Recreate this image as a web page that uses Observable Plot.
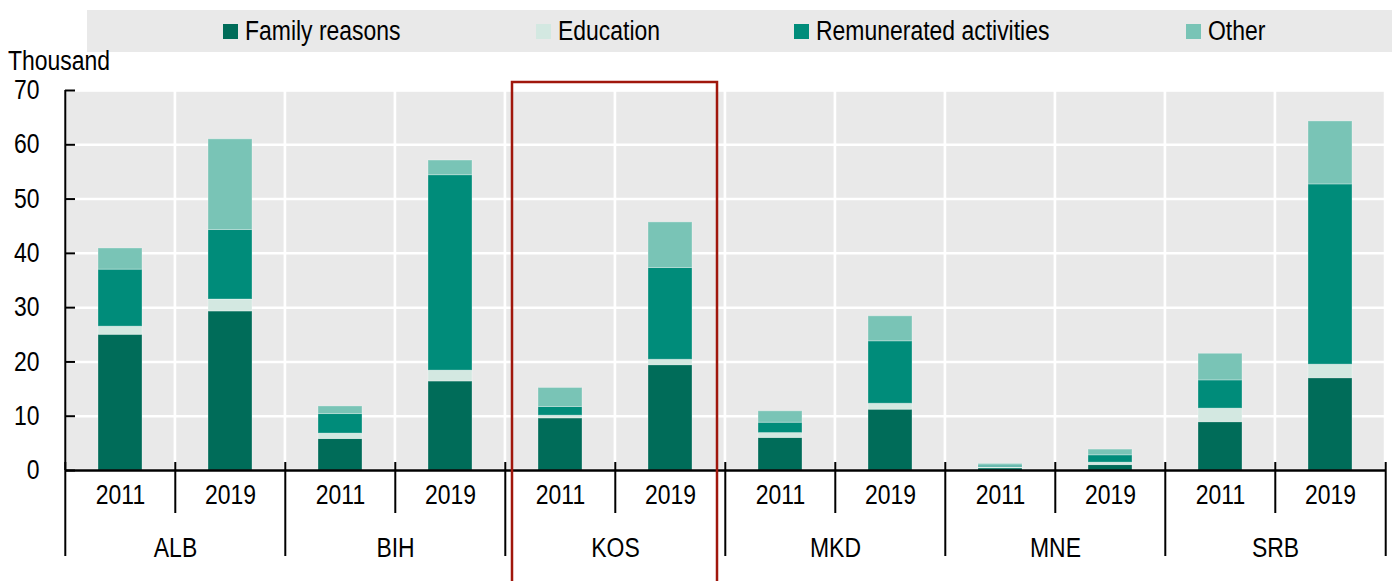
<!DOCTYPE html>
<html>
<head>
<meta charset="utf-8">
<script src="https://cdn.jsdelivr.net/npm/d3@7"></script>
<script src="https://cdn.jsdelivr.net/npm/@observablehq/plot@0.6"></script>
<style>
  html, body { margin: 0; padding: 0; background: #ffffff; }
  body { width: 1392px; height: 581px; position: relative; overflow: hidden;
         font-family: "Liberation Sans Narrow", "Arial Narrow", "Liberation Sans", sans-serif; color: #000; }
  #legend { position: absolute; left: 87px; top: 10px; width: 1305px; height: 42px; background: #e9e9e9; }
  .item { position: absolute; top: 0; height: 42px; display: flex; align-items: center; font-size: 27px; white-space: nowrap; }
  .sw { width: 15px; height: 15px; margin-right: 7px; flex: none; }
  .narrow { display: inline-block; transform: scaleX(0.85); transform-origin: left center; }
  #unit { position: absolute; left: 8px; top: 46px; font-size: 27px; }
  #chart { position: absolute; left: 0; top: 0; }
</style>
</head>
<body>
<div id="legend"></div>
<div id="unit"><span class="narrow">Thousand</span></div>
<div id="chart"></div>
<script>
// ---- data ----
const countries = ["ALB", "BIH", "KOS", "MKD", "MNE", "SRB"];
const years = ["2011", "2019"];
const reasons = ["Family reasons", "Education", "Remunerated activities", "Other"];
const colors = ["#006c59", "#d3e8e1", "#008c7a", "#79c4b6"];
// values in thousand, order: ALB 2011, ALB 2019, BIH 2011, BIH 2019, ...
const family      = [25.0, 29.3, 5.8, 16.4, 9.6, 19.4, 6.0, 11.2, 0.4, 1.0, 8.9, 17.0];
const education   = [1.5, 2.2, 1.0, 2.0, 0.5, 1.0, 0.9, 1.1, 0.2, 0.45, 2.5, 2.5];
const remunerated = [10.5, 12.8, 3.6, 36.0, 1.6, 16.9, 1.9, 11.5, 0.3, 1.35, 5.2, 33.2];
const other       = [3.9, 16.7, 1.4, 2.7, 3.5, 8.4, 2.1, 4.6, 0.3, 1.05, 4.9, 11.6];
const yTicks = [0, 10, 20, 30, 40, 50, 60, 70];
const highlighted = ["KOS"];

// ---- build tables ----
const series = [family, education, remunerated, other];
const rows = [];
const bands = [];
countries.forEach((c, i) => years.forEach((y, j) => {
  const k = i * years.length + j;
  bands.push({country: c, year: y});
  series.forEach((arr, r) => rows.push({country: c, year: y, reason: reasons[r], value: arr[k]}));
}));
const groupStarts = bands.filter(d => d.year === years[0]);
const innerBounds = bands.filter(d => d.year !== years[0]);
const lastBand = [bands[bands.length - 1]];
const firstBand = [bands[0]];
const yMin = yTicks[0], yMax = yTicks[yTicks.length - 1];

// ---- layout ----
const W = 1392, H = 581;
const mL = 62, mR = 5, mT = 90, mB = 111;
const step = (W - mL - mR) / bands.length;
const font = '"Liberation Sans Narrow", "Arial Narrow", "Liberation Sans", sans-serif';
const narrow = 0.85;

// ---- legend ----
const legendX = [223, 536, 794, 1186];
const legend = document.getElementById("legend");
reasons.forEach((r, i) => {
  const it = document.createElement("div");
  it.className = "item";
  it.style.left = (legendX[i] - 87) + "px";
  it.innerHTML = `<span class="sw" style="background:${colors[i]}"></span><span class="narrow">${r}</span>`;
  legend.appendChild(it);
});

const tickStyle = {stroke: "black", strokeWidth: 2};
const chart = Plot.plot({
  width: W, height: H,
  marginLeft: mL, marginRight: mR, marginTop: mT, marginBottom: mB,
  style: {fontFamily: font, fontSize: "27px", color: "black", background: "transparent", overflow: "visible"},
  fx: {domain: countries, padding: 0, label: null},
  x: {domain: years, padding: 0, label: null},
  y: {type: "linear", domain: [yMin, yMax], label: null},
  color: {domain: reasons, range: colors},
  marks: [
    Plot.cell(bands, {fx: "country", x: "year", fill: "#e9e9e9", stroke: "white", strokeWidth: 2.5}),
    Plot.gridY(yTicks, {stroke: "white", strokeOpacity: 1, strokeWidth: 2.5}),
    Plot.barY(rows, {fx: "country", x: "year", y: "value", fill: "reason",
      insetLeft: 33, insetRight: 33, stroke: "white", strokeOpacity: 0.3, strokeWidth: 1}),
    Plot.ruleY([0], {stroke: "black", strokeWidth: 2.5}),
    Plot.ruleX(innerBounds, {fx: "country", x: "year", y1: 0, y2: 0, dx: -step / 2,
      insetTop: -8, insetBottom: -43, ...tickStyle}),
    Plot.ruleX(groupStarts, {fx: "country", x: "year", y1: 0, y2: 0, dx: -step / 2,
      insetTop: -8, insetBottom: -86, ...tickStyle}),
    Plot.ruleX(lastBand, {fx: "country", x: "year", y1: 0, y2: 0, dx: step / 2,
      insetTop: -8, insetBottom: -86, ...tickStyle}),
    Plot.ruleX(firstBand, {fx: "country", x: "year", y1: yMin, y2: yMax,
      dx: -step / 2, ...tickStyle}),
    Plot.axisY(yTicks, {tickSize: 10, dx: 10, tickFormat: () => "", strokeWidth: 2}),
    Plot.axisY(yTicks, {tickSize: 0, tickPadding: 26, fontSize: 27, label: null}),
    Plot.axisX({tickSize: 0, tickPadding: 14, fontSize: 27, label: null}),
    Plot.axisFx({anchor: "bottom", tickSize: 0, tickPadding: 67, fontSize: 27, label: null}),
    Plot.barY(highlighted, {fx: d => d, y1: yMin, y2: yMax, fill: "none", stroke: "#a0170c", strokeWidth: 2.5,
      insetLeft: 7, insetRight: 8, insetTop: -8, insetBottom: -150})
  ]
});

// condense SVG text horizontally (stand-in for a narrow typeface)
chart.querySelectorAll("text").forEach(t => {
  const tr = t.getAttribute("transform");
  if (tr) {
    t.setAttribute("transform", tr + ` scale(${narrow},1)`);
  } else {
    const x = +(t.getAttribute("x") || 0), y = +(t.getAttribute("y") || 0);
    t.removeAttribute("x"); t.removeAttribute("y");
    t.setAttribute("transform", `translate(${x},${y}) scale(${narrow},1)`);
  }
});
document.getElementById("chart").appendChild(chart);
</script>
</body>
</html>
